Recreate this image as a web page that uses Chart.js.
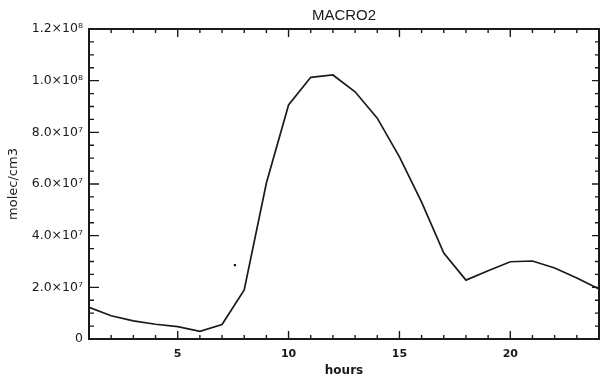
<!DOCTYPE html>
<html>
<head>
<meta charset="utf-8">
<script src="https://cdn.jsdelivr.net/npm/chart.js@4/dist/chart.umd.min.js"></script>
<style>
  html, body { margin: 0; padding: 0; background: #fff; }
  #wrap { width: 600px; height: 384px; }
</style>
</head>
<body>
<div id="wrap"><canvas id="c" width="600" height="384"></canvas></div>
<script>
// Hourly MACRO2 concentration (molec/cm3)
const hours = [1, 2, 3, 4, 5, 6, 7, 8, 9, 10, 11, 12, 13, 14, 15, 16, 17, 18, 19, 20, 21, 22, 23, 24];
const macro2 = [12.3e6, 9.0e6, 7.0e6, 5.7e6, 4.8e6, 3.0e6, 5.6e6, 19.0e6, 60.4e6, 90.6e6, 101.3e6, 102.2e6,
                95.7e6, 85.5e6, 70.5e6, 53.0e6, 33.3e6, 22.8e6, 26.4e6, 29.9e6, 30.2e6, 27.5e6, 23.6e6, 19.4e6];
// Single isolated observation
const markHour = [7.58];
const markValue = [28.6e6];

const xTickLabels = [5, 10, 15, 20];
const yTickValues = [0, 2e7, 4e7, 6e7, 8e7, 1e8, 1.2e8];
const yTickLabels = ['0', '2.0×10⁷', '4.0×10⁷', '6.0×10⁷', '8.0×10⁷', '1.0×10⁸', '1.2×10⁸'];

const INK = '#1a1a1a';
const FONT = 'DejaVu Sans, Verdana, sans-serif';
const TITLE_FONT = 'Liberation Sans, Arial, sans-serif';

// Box frame with inward major/minor ticks on all four sides
const frameTicks = {
  id: 'frameTicks',
  afterDraw(chart) {
    const { ctx, chartArea: a, scales: { x, y } } = chart;
    ctx.save();
    ctx.strokeStyle = INK;
    ctx.lineWidth = 1.4;
    ctx.beginPath();
    for (let v = Math.ceil(x.min); v <= x.max; v += 1) {
      const px = x.getPixelForValue(v);
      const len = v % 5 === 0 ? 8 : 4;
      ctx.moveTo(px, a.bottom); ctx.lineTo(px, a.bottom - len);
      ctx.moveTo(px, a.top); ctx.lineTo(px, a.top + len);
    }
    for (let v = 0; v <= y.max + 1; v += 5e6) {
      const py = y.getPixelForValue(v);
      const major = Math.round(v / 5e6) % 4 === 0;
      ctx.moveTo(a.left, py); ctx.lineTo(a.left + (major ? 10 : 5), py);
      ctx.moveTo(a.right, py); ctx.lineTo(a.right - (major ? 7 : 4), py);
    }
    ctx.stroke();
    ctx.lineWidth = 2;
    ctx.strokeRect(a.left, a.top, a.right - a.left, a.bottom - a.top);
    ctx.restore();
  }
};

new Chart(document.getElementById('c'), {
  type: 'line',
  data: {
    datasets: [
      {
        data: hours.map((h, i) => ({ x: h, y: macro2[i] })),
        borderColor: INK,
        borderWidth: 1.7,
        pointRadius: 0,
        tension: 0,
        fill: false
      },
      {
        type: 'scatter',
        data: markHour.map((h, i) => ({ x: h, y: markValue[i] })),
        pointStyle: 'rect',
        pointRadius: 1.6,
        backgroundColor: INK,
        borderColor: INK,
        borderWidth: 0
      }
    ]
  },
  options: {
    responsive: false,
    animation: false,
    layout: { autoPadding: false, padding: { left: 0, right: 1, top: 0, bottom: 0 } },
    plugins: {
      legend: { display: false },
      tooltip: { enabled: false },
      title: {
        display: true,
        fullSize: false,
        text: 'MACRO2',
        color: INK,
        font: { family: TITLE_FONT, size: 15, weight: 'normal', lineHeight: 1.2 },
        padding: { top: 7, bottom: 4 }
      }
    },
    scales: {
      x: {
        type: 'linear',
        min: 1,
        max: 24,
        grid: { display: false, drawTicks: false },
        border: { display: false },
        afterBuildTicks(s) { s.ticks = hours.map(h => ({ value: h })); },
        ticks: {
          autoSkip: false,
          maxRotation: 0,
          padding: 9,
          color: INK,
          font: { family: FONT, size: 11, weight: 'bold' },
          callback: v => xTickLabels.includes(v) ? String(v) : ''
        },
        title: {
          display: true,
          text: 'hours',
          color: INK,
          font: { family: FONT, size: 12, weight: 'bold' },
          padding: { top: 0, bottom: 6 }
        },
        afterFit(s) {
          s.height = 45;
          s.paddingLeft = 0;
          s.paddingRight = 0;
        }
      },
      y: {
        min: 0,
        max: 1.2e8,
        grid: { display: false, drawTicks: false },
        border: { display: false },
        afterBuildTicks(s) { s.ticks = yTickValues.map(v => ({ value: v })); },
        ticks: {
          padding: 6,
          color: INK,
          font: { family: FONT, size: 12.5 },
          callback: v => yTickLabels[yTickValues.indexOf(v)]
        },
        title: {
          display: true,
          text: 'molec/cm3',
          color: INK,
          font: { family: FONT, size: 13 },
          padding: { top: 6, bottom: 0 }
        },
        afterFit(s) { s.width = 89; }
      }
    }
  },
  plugins: [frameTicks]
});
</script>
</body>
</html>
